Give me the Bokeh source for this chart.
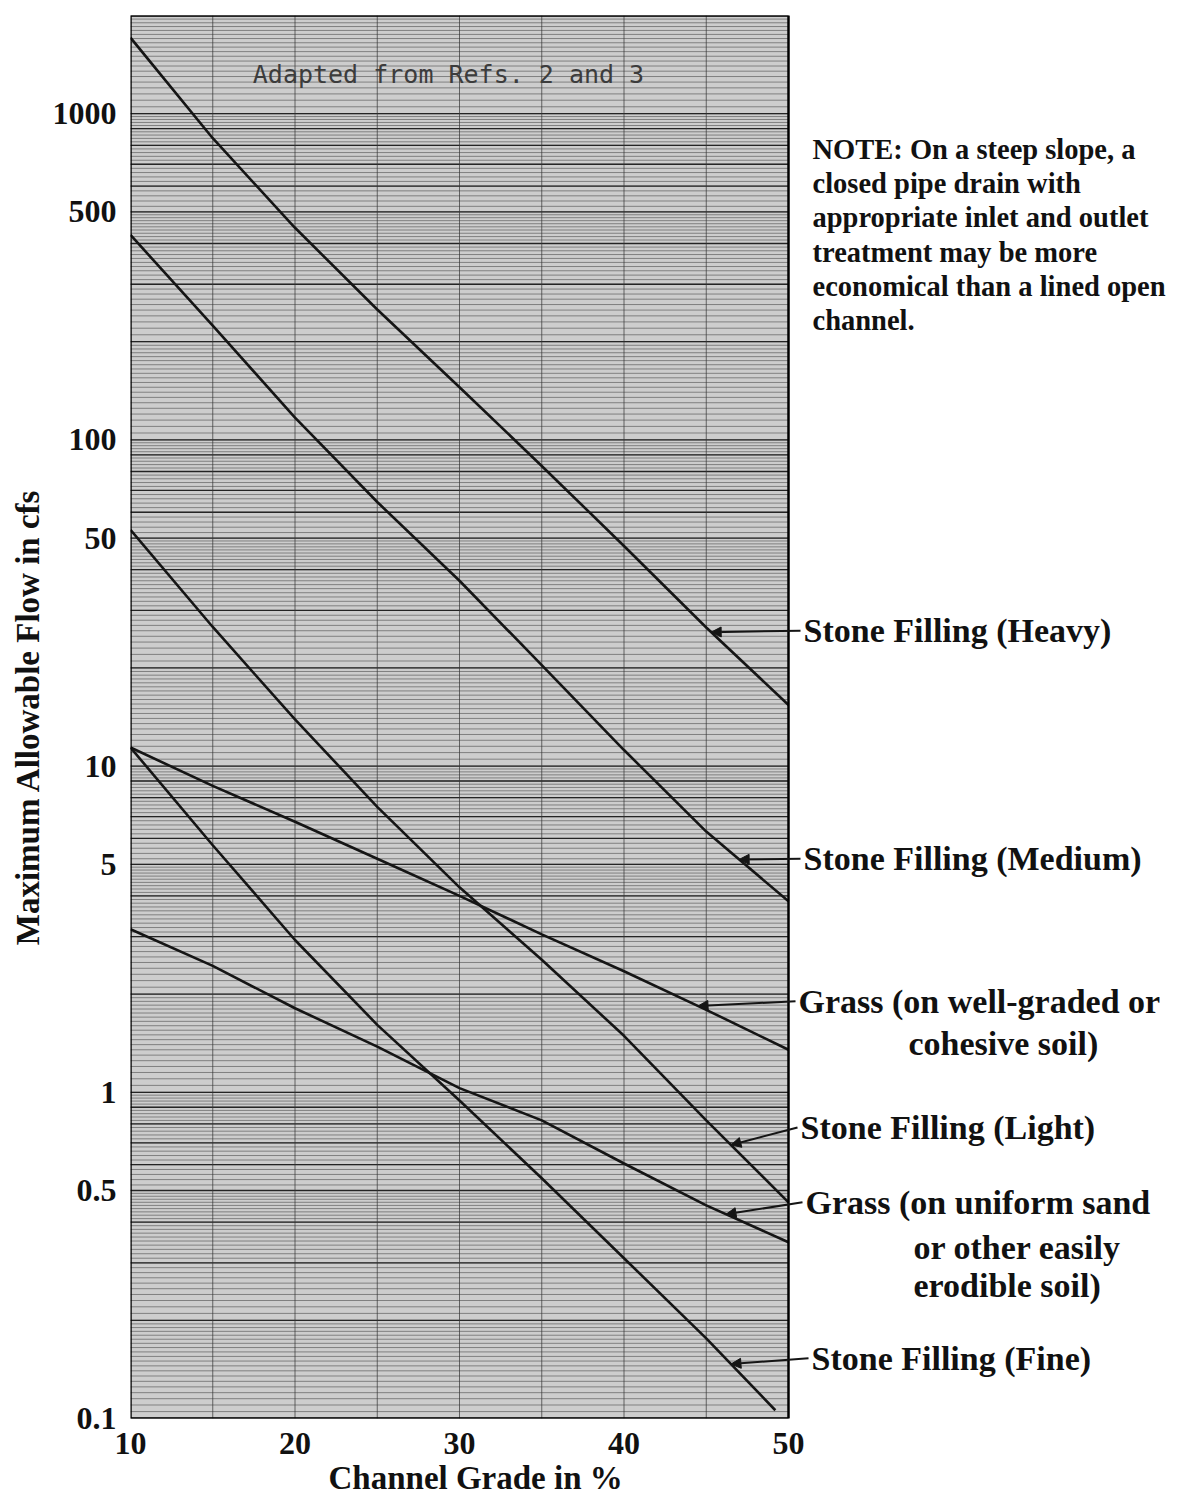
import numpy as np
from bokeh.plotting import figure
from bokeh.models import (FixedTicker, CustomJSTickFormatter, Label, Arrow,
                          NormalHead, Range1d, Title)
from bokeh.embed import file_html
from bokeh.resources import INLINE

# ---------------- data ----------------
grade = [10, 15, 20, 25, 30, 35, 40, 45, 50]
heavy = [1710, 841, 447, 251, 145, 83.2, 47.3, 26.6, 15.4]
medium = [425, 224, 117, 64.5, 37, 20.4, 11.2, 6.3, 3.85]
light = [53, 26.7, 13.9, 7.5, 4.25, 2.55, 1.49, 0.82, 0.46]
grass_well = [11.4, 8.7, 6.75, 5.2, 4.0, 3.05, 2.35, 1.79, 1.35]
grade_fine = [10, 15, 20, 25, 30, 35, 40, 45, 49.2]
fine = [11.4, 5.72, 2.93, 1.61, 0.944, 0.545, 0.31, 0.176, 0.106]
grass_sand = [3.16, 2.44, 1.81, 1.38, 1.03, 0.82, 0.605, 0.45, 0.347]

y_tick_values = [0.1, 0.5, 1, 5, 10, 50, 100, 500, 1000]
x_tick_values = [10, 20, 30, 40, 50]
x_grid_values = [15, 20, 25, 30, 35, 40, 45]

X_MIN, X_MAX = 10, 50
Y_MIN, Y_MAX = 0.1, 2000

SERIF = "Liberation Serif"
INK = "#151515"

# chart frame: 658 px for 10..50, the rest of the width holds the labels
PLOT_PX = 658
PPU = PLOT_PX / (X_MAX - X_MIN)
LEFT = 130
WIDTH, HEIGHT = 1177, 1499
x_end = X_MIN + (WIDTH - LEFT) / PPU

p = figure(width=WIDTH, height=HEIGHT, y_axis_type="log",
           x_range=Range1d(X_MIN, x_end), y_range=Range1d(Y_MIN, Y_MAX),
           output_backend="svg", toolbar_location=None,
           min_border_left=LEFT, min_border_right=0,
           min_border_top=15, min_border_bottom=81)
p.background_fill_color = "white"
p.border_fill_color = "white"
p.outline_line_color = None
p.grid.visible = False

# ---------------- chart paper ----------------
majors, minors = [], []
for k in range(-1, 4):
    d = 10.0 ** k
    for m in range(1, 10):
        if Y_MIN <= m * d <= Y_MAX:
            majors.append(m * d)
    for m in np.concatenate([np.arange(1, 2, 0.05), np.arange(2, 5, 0.1),
                             np.arange(5, 10, 0.2)]):
        v = float(m * d)
        if Y_MIN < v < Y_MAX:
            minors.append(v)

p.quad(left=[X_MIN], right=[X_MAX], bottom=[Y_MIN], top=[Y_MAX],
       fill_color="#cdcdcd", line_color=None)
p.segment(x0=X_MIN, x1=X_MAX, y0=minors, y1=minors,
          line_color="#4a4a4a", line_alpha=0.65, line_width=0.9)
p.segment(x0=X_MIN, x1=X_MAX, y0=majors, y1=majors,
          line_color="#1a1a1a", line_alpha=0.9, line_width=1.3)
p.segment(x0=x_grid_values, x1=x_grid_values, y0=Y_MIN, y1=Y_MAX,
          line_color="#333333", line_alpha=0.7, line_width=1)

# ---------------- axes ----------------
p.yaxis.ticker = FixedTicker(ticks=y_tick_values)
p.yaxis.formatter = CustomJSTickFormatter(code="return tick.toString()")
p.xaxis.ticker = FixedTicker(ticks=x_tick_values)
for ax in (p.xaxis, p.yaxis):
    ax.axis_line_color = None
    ax.major_tick_line_color = None
    ax.minor_tick_line_color = None
    ax.major_label_text_font = SERIF
    ax.major_label_text_font_style = "bold"
    ax.major_label_text_font_size = "32px"
    ax.major_label_text_color = "#111111"
    ax.axis_label_text_font = SERIF
    ax.axis_label_text_font_style = "bold"
    ax.axis_label_text_font_size = "33px"
    ax.axis_label_text_color = "#111111"
p.yaxis.axis_label = "Maximum Allowable Flow in cfs"
p.xaxis.major_label_standoff = 8
p.yaxis.major_label_standoff = 8
p.yaxis.axis_label_standoff = 4

# x-axis title, centred under the 10..50 chart rather than the whole frame
p.add_layout(Title(text="Channel Grade in %", align="left", offset=198,
                   text_font=SERIF, text_font_style="bold",
                   text_font_size="33px", text_color="#111111",
                   standoff=2), "below")

# ---------------- curves ----------------
series = [
    ("Stone Filling (Heavy)", grade, heavy),
    ("Stone Filling (Medium)", grade, medium),
    ("Stone Filling (Light)", grade, light),
    ("Grass (on well-graded or cohesive soil)", grade, grass_well),
    ("Stone Filling (Fine)", grade_fine, fine),
    ("Grass (on uniform sand or other easily erodible soil)", grade, grass_sand),
]
for name, xs, ys in series:
    p.line(xs, ys, line_color=INK, line_width=2.6)

# chart border
p.quad(left=[X_MIN], right=[X_MAX], bottom=[Y_MIN], top=[Y_MAX],
       fill_color=None, line_color="black", line_width=2.5)


def on_curve(xs, ys, g):
    return float(10 ** np.interp(g, xs, np.log10(ys)))


label_font = dict(text_font=SERIF, text_font_style="bold",
                  text_font_size="34px", text_color="#111111",
                  text_baseline="middle", text_align="left")

# label lines: (text, px right of chart edge, y value, curve it points to)
labels = [
    ("Stone Filling (Heavy)", 15, 26.0, (grade, heavy, 45.3)),
    ("Stone Filling (Medium)", 15, 5.2, (grade, medium, 47.0)),
    ("Grass (on well-graded or", 10, 1.9, (grade, grass_well, 44.5)),
    ("cohesive soil)", 120, 1.41, None),
    ("Stone Filling (Light)", 12, 0.78, (grade, light, 46.5)),
    ("Grass (on uniform sand", 17, 0.46, (grade, grass_sand, 46.2)),
    ("or other easily", 125, 0.335, None),
    ("erodible soil)", 125, 0.256, None),
    ("Stone Filling (Fine)", 23, 0.153, (grade_fine, fine, 46.5)),
]
for t, off, y, target in labels:
    x = X_MAX + off / PPU
    p.add_layout(Label(x=x, y=y, text=t, **label_font))
    if target is not None:
        xs, ys, g_end = target
        p.add_layout(Arrow(x_start=x - 3 / PPU, y_start=y, x_end=g_end,
                           y_end=on_curve(xs, ys, g_end),
                           line_color=INK, line_width=2,
                           end=NormalHead(size=10, fill_color=INK,
                                          line_color=INK)))

note = ("NOTE: On a steep slope, a\nclosed pipe drain with\n"
        "appropriate inlet and outlet\ntreatment may be more\n"
        "economical than a lined open\nchannel.")
p.add_layout(Label(x=X_MAX + 24 / PPU, y=869, text=note, text_font=SERIF,
                   text_font_style="bold", text_font_size="28.5px",
                   text_color="#111111", text_baseline="top",
                   text_align="left", text_line_height=1.107))

# source
p.add_layout(Label(x=29.33, y=1318, text="Adapted from Refs. 2 and 3",
                   text_font="DejaVu Sans Mono", text_font_size="25px",
                   text_color="#3c3c3c", text_align="center",
                   text_baseline="middle"))

open("out.html", "w").write(file_html(p, INLINE))
